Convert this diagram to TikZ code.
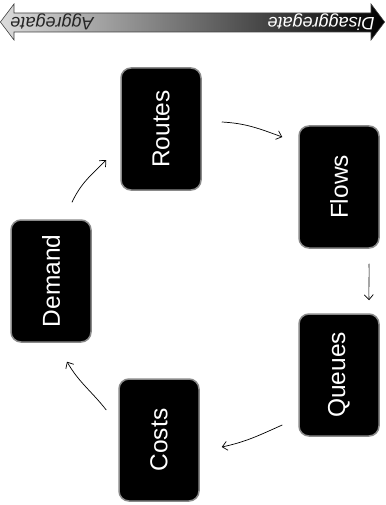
\documentclass[tikz,border=0pt]{standalone}
\usepackage{fontspec}
\setmainfont{Liberation Sans}
\usetikzlibrary{arrows.meta}
\definecolor{rim}{HTML}{8A8A8A}
\definecolor{barline}{HTML}{404040}

\begin{document}
\begin{tikzpicture}[x=1pt,y=1pt,
  stage/.style={draw=rim, line width=1.5pt, fill=black, rounded corners=10pt,
    minimum width=80pt, minimum height=122pt, inner sep=0pt, text=white,
    font=\fontsize{24.5}{24.5}\selectfont},
  cyc/.style={-{Straight Barb[length=5pt,width=9pt]}, line width=0.7pt},
  scalelabel/.style={rotate=180, inner sep=0pt,
    font=\fontsize{18}{18}\selectfont\itshape}]
\useasboundingbox (0,0) rectangle (385,-505);

% aggregation scale bar
\shadedraw[left color=gray!28, right color=black, draw=barline, line width=0.6pt]
  (0.4,-22) -- (14,-4) -- (14,-13) -- (371,-13) -- (371,-4) -- (384.6,-22)
  -- (371,-40) -- (371,-32) -- (14,-32) -- (14,-40) -- cycle;
\node[scalelabel, text=black!85] (aggr) at (52,-22) {Aggregate};
\node[scalelabel, text=white] (disaggr) at (321,-22) {Disaggregate};

% modelling stages
\node[stage] (routes) at (161,-129) {\rotatebox{90}{Routes}};
\node[stage] (flows)  at (339,-187) {\rotatebox{90}{Flows}};
\node[stage] (queues) at (339,-375) {\rotatebox{90}{Queues}};
\node[stage] (costs)  at (159,-440) {\rotatebox{90}{Costs}};
\node[stage] (demand) at (51,-281)  {\rotatebox{90}{Demand}};

% cycle
\draw[cyc] ([shift={(21,17)}]demand.north) to[out=65,in=225]
  ([shift={(-14,-31)}]routes.west);
\draw[cyc] ([shift={(20,7)}]routes.east) to[out=-3,in=160]
  ([shift={(-16,50)}]flows.west);
\draw[cyc] ([shift={(30,-15)}]flows.south) to[out=-88,in=92]
  ([shift={(30,13)}]queues.north);
\draw[cyc] ([shift={(-16,-50)}]queues.west) to[out=204,in=12]
  ([shift={(22,-7)}]costs.east);
\draw[cyc] ([shift={(-12,30)}]costs.west) to[out=128,in=300]
  ([shift={(16,-19)}]demand.south);
\end{tikzpicture}
\end{document}
